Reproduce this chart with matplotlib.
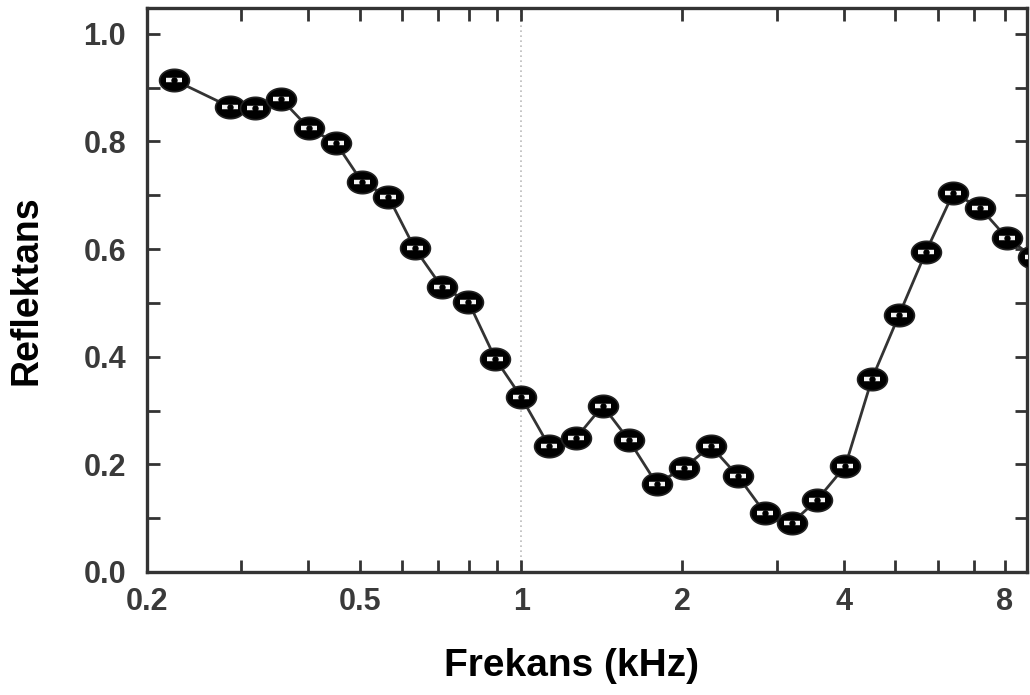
import matplotlib
matplotlib.use("Agg")
import matplotlib.pyplot as plt
import numpy as np
from matplotlib.path import Path

# 1/6-octave frequencies (kHz) and reflectance
freq = [0.225, 0.286, 0.318, 0.356, 0.401, 0.451, 0.504, 0.565, 0.632, 0.710,
        0.797, 0.895, 1.0, 1.127, 1.266, 1.42, 1.589, 1.79, 2.01, 2.26,
        2.54, 2.85, 3.20, 3.57, 4.03, 4.52, 5.08, 5.70, 6.41, 7.19, 8.07, 9.05]
refl = [0.914, 0.864, 0.862, 0.879, 0.825, 0.797, 0.725, 0.697, 0.602, 0.530,
        0.502, 0.396, 0.325, 0.234, 0.249, 0.309, 0.245, 0.164, 0.193, 0.234,
        0.178, 0.110, 0.091, 0.134, 0.197, 0.359, 0.478, 0.595, 0.704, 0.677, 0.621, 0.585]

xticks = [0.2, 0.3, 0.4, 0.5, 0.6, 0.7, 0.8, 0.9, 1, 2, 3, 4, 5, 6, 7, 8]
xlabels = {0.2: "0.2", 0.5: "0.5", 1: "1", 2: "2", 4: "4", 8: "8"}
yticks = [0.0, 0.1, 0.2, 0.3, 0.4, 0.5, 0.6, 0.7, 0.8, 0.9, 1.0]

plt.rcParams['font.family'] = ['Liberation Sans', 'DejaVu Sans']
plt.rcParams['font.weight'] = 'bold'

# wide ellipse marker
t = np.linspace(0, 2 * np.pi, 60)
ellipse = Path(np.column_stack([np.cos(t), 0.75 * np.sin(t)]), closed=True)

fig = plt.figure(figsize=(10.30, 6.95), dpi=100)
ax = fig.add_axes([0.1427, 0.177, 0.8543, 0.8115])

ax.axvline(1.0, color="#bbbbbb", lw=1.2, ls=(0, (1, 2)), zorder=1)
ax.plot(freq, refl, color="#333333", lw=2.0, zorder=2)
ax.plot(freq, refl, ls="none", marker=ellipse, ms=21.5, mfc="black", mec="#222222", mew=1.2, zorder=3)
ax.plot(freq, refl, ls="none", marker="_", ms=12, mew=3.2, color="#f4f4f4", zorder=4)
ax.plot(freq, refl, ls="none", marker="o", ms=3.6, mfc="black", mec="black", zorder=5)

ax.set_xscale("log")
ax.set_xlim(0.2, 8.8)
ax.set_ylim(0.0, 1.048)
ax.set_xticks(xticks)
ax.set_xticklabels([xlabels.get(v, "") for v in xticks])
ax.minorticks_off()
ax.set_yticks(yticks)
ax.set_yticklabels(["%.1f" % v if i % 2 == 0 else "" for i, v in enumerate(yticks)])

ax.tick_params(direction="in", length=9, width=2, color="#333333",
               top=True, right=True, labelsize=22, labelcolor="#3a3a3a")
ax.tick_params(axis="x", pad=11)
ax.tick_params(axis="y", pad=15)
for s in ax.spines.values():
    s.set_linewidth(2.4)
    s.set_color("#333333")

ax.set_xlabel("Frekans (kHz)", fontsize=28, fontweight="bold")
ax.set_ylabel("Reflektans", fontsize=27, fontweight="bold")
ax.xaxis.set_label_coords(0.483, -0.135)
ax.yaxis.set_label_coords(-0.116, 0.5)

fig.savefig("out.png", dpi=100)
